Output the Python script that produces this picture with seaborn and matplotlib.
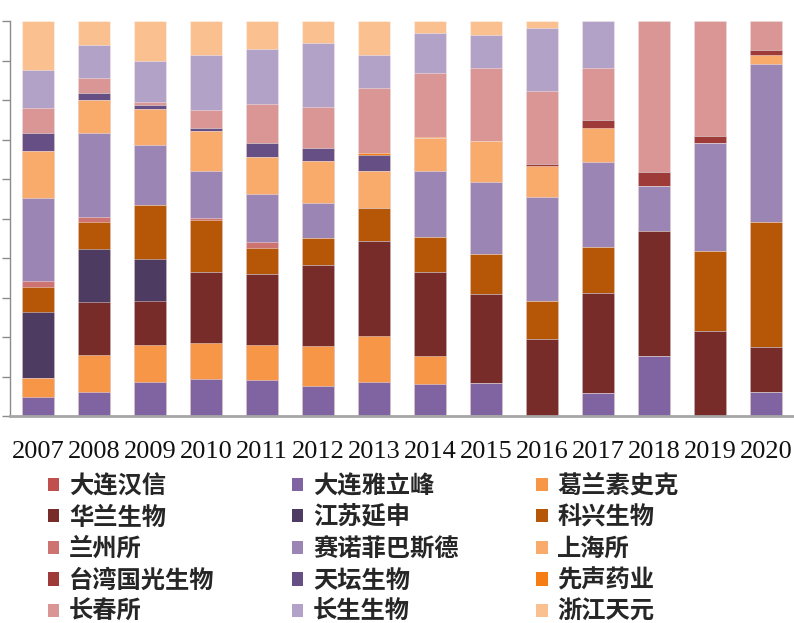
import numpy as np
import pandas as pd
import matplotlib
matplotlib.use("Agg")
import matplotlib.pyplot as plt
from matplotlib.patches import Patch
import seaborn as sns

years = ["2007", "2008", "2009", "2010", "2011", "2012", "2013",
         "2014", "2015", "2016", "2017", "2018", "2019", "2020"]

companies = ["大连汉信", "大连雅立峰", "葛兰素史克", "华兰生物", "江苏延申",
             "科兴生物", "兰州所", "赛诺菲巴斯德", "上海所", "台湾国光生物",
             "天坛生物", "先声药业", "长春所", "长生生物", "浙江天元"]

dalian_hanxin   = [0, 0, 0, 0, 0, 0, 0, 0.2, 0.3, 0, 0, 0, 0, 0]
dalian_yalifeng = [4.9, 6.2, 8.6, 9.5, 9.2, 7.7, 8.7, 7.8, 8.1, 0, 5.7, 15.1, 0, 6.0]
gsk             = [4.8, 9.2, 9.4, 9.0, 8.8, 10.0, 11.6, 7.1, 0, 0, 0, 0, 0, 0]
hualan          = [0, 13.4, 11.1, 17.9, 17.9, 20.5, 24.0, 21.4, 22.6, 19.6, 25.4, 31.8, 21.6, 11.4]
jiangsu_yanshen = [16.7, 13.6, 10.6, 0, 0, 0, 0, 0, 0, 0, 0, 0, 0, 0]
sinovac         = [6.2, 6.7, 13.6, 13.2, 6.7, 7.0, 8.4, 8.8, 10.0, 9.6, 11.7, 0, 20.1, 31.7]
lanzhou         = [1.6, 1.4, 0, 0.5, 1.4, 0, 0, 0, 0, 0, 0, 0, 0, 0]
sanofi          = [21.1, 21.1, 15.4, 12.1, 12.1, 8.8, 0, 16.8, 18.2, 26.3, 21.4, 11.4, 27.3, 40.1]
shanghai        = [11.7, 8.4, 9.1, 10.0, 9.5, 10.6, 9.4, 8.2, 10.4, 7.9, 8.7, 0, 0, 2.2]
adimmune        = [0, 0, 0, 0, 0, 0, 0, 0, 0, 0.5, 2.0, 3.5, 1.9, 1.2]
tiantan         = [4.6, 1.9, 0.9, 0.7, 3.6, 3.4, 4.1, 0, 0, 0, 0, 0, 0, 0]
simcere         = [0, 0, 0, 0, 0, 0, 0.4, 0.3, 0, 0, 0, 0, 0, 0]
changchun       = [6.3, 3.8, 0.9, 4.6, 9.7, 10.2, 16.4, 16.3, 18.4, 18.5, 13.1, 38.2, 29.1, 7.4]
changsheng      = [9.6, 8.4, 10.4, 14.1, 14.1, 16.2, 8.3, 10.1, 8.5, 15.9, 12.0, 0, 0, 0]
zhejiang_tianyuan = [12.5, 6.0, 10.0, 8.5, 7.0, 5.7, 8.7, 3.0, 3.5, 1.7, 0, 0, 0, 0]

series = [dalian_hanxin, dalian_yalifeng, gsk, hualan, jiangsu_yanshen, sinovac,
          lanzhou, sanofi, shanghai, adimmune, tiantan, simcere, changchun,
          changsheng, zhejiang_tianyuan]

colors = ["#c0504d", "#8064a2", "#f79646", "#772c2a", "#4d3b62", "#b65708",
          "#cd7371", "#9a85b5", "#f9ab6b", "#9e3b39", "#664f85", "#f67d14",
          "#d99694", "#b3a2c7", "#fac090"]

sns.set_theme(style="white")
plt.rcParams["font.family"] = ["Noto Sans CJK SC", "DejaVu Sans"]

vals = np.array(series, dtype=float)
pct = vals / vals.sum(axis=0) * 100.0
cum = np.cumsum(pct, axis=0)

fig = plt.figure(figsize=(7.94, 6.23), dpi=100)
ax = fig.add_axes([10 / 794, 1 - 416 / 623, 1 - 10 / 794, (416 - 21) / 623])

for i in range(len(companies) - 1, -1, -1):
    df = pd.DataFrame({"year": years, "value": cum[i]})
    sns.barplot(data=df, x="year", y="value", color=colors[i], saturation=1,
                width=0.57, edgecolor=(1, 1, 1, 0.4), linewidth=0.7,
                ax=ax, errorbar=None)

ax.set_ylim(0, 100)
ax.set_xlim(-0.5, 13.5)
ax.set_yticks(np.arange(0, 101, 10))
ax.set_yticklabels([])
ax.set_xlabel("")
ax.set_ylabel("")
for side in ["top", "right"]:
    ax.spines[side].set_visible(False)
ax.spines["left"].set_color("#8c8c8c")
ax.spines["left"].set_linewidth(1.0)
ax.spines["bottom"].set_color("#a6a6a6")
ax.spines["bottom"].set_linewidth(2.0)
ax.tick_params(axis="y", direction="out", length=5.5, width=1.0, color="#8c8c8c", left=True)
ax.tick_params(axis="x", length=0, pad=18)
for lab in ax.get_xticklabels():
    lab.set_fontfamily(["Liberation Serif", "DejaVu Serif"])
    lab.set_fontsize(19)
    lab.set_color("#111111")

order = [0, 3, 6, 9, 12, 1, 4, 7, 10, 13, 2, 5, 8, 11, 14]
handles = [Patch(facecolor=colors[k], edgecolor="none") for k in order]
labels = [companies[k] for k in order]
fig.legend(handles, labels, ncol=3, loc="upper left",
           bbox_to_anchor=(48 / 794, 1 - 474 / 623), frameon=False,
           borderpad=0, borderaxespad=0,
           prop={"family": ["Noto Sans CJK SC", "DejaVu Sans"], "size": 17.5, "weight": "bold"},
           handlelength=0.46, handleheight=0.46, handletextpad=0.4,
           columnspacing=3.2, labelspacing=0.31)

fig.savefig("out.png", dpi=100)
